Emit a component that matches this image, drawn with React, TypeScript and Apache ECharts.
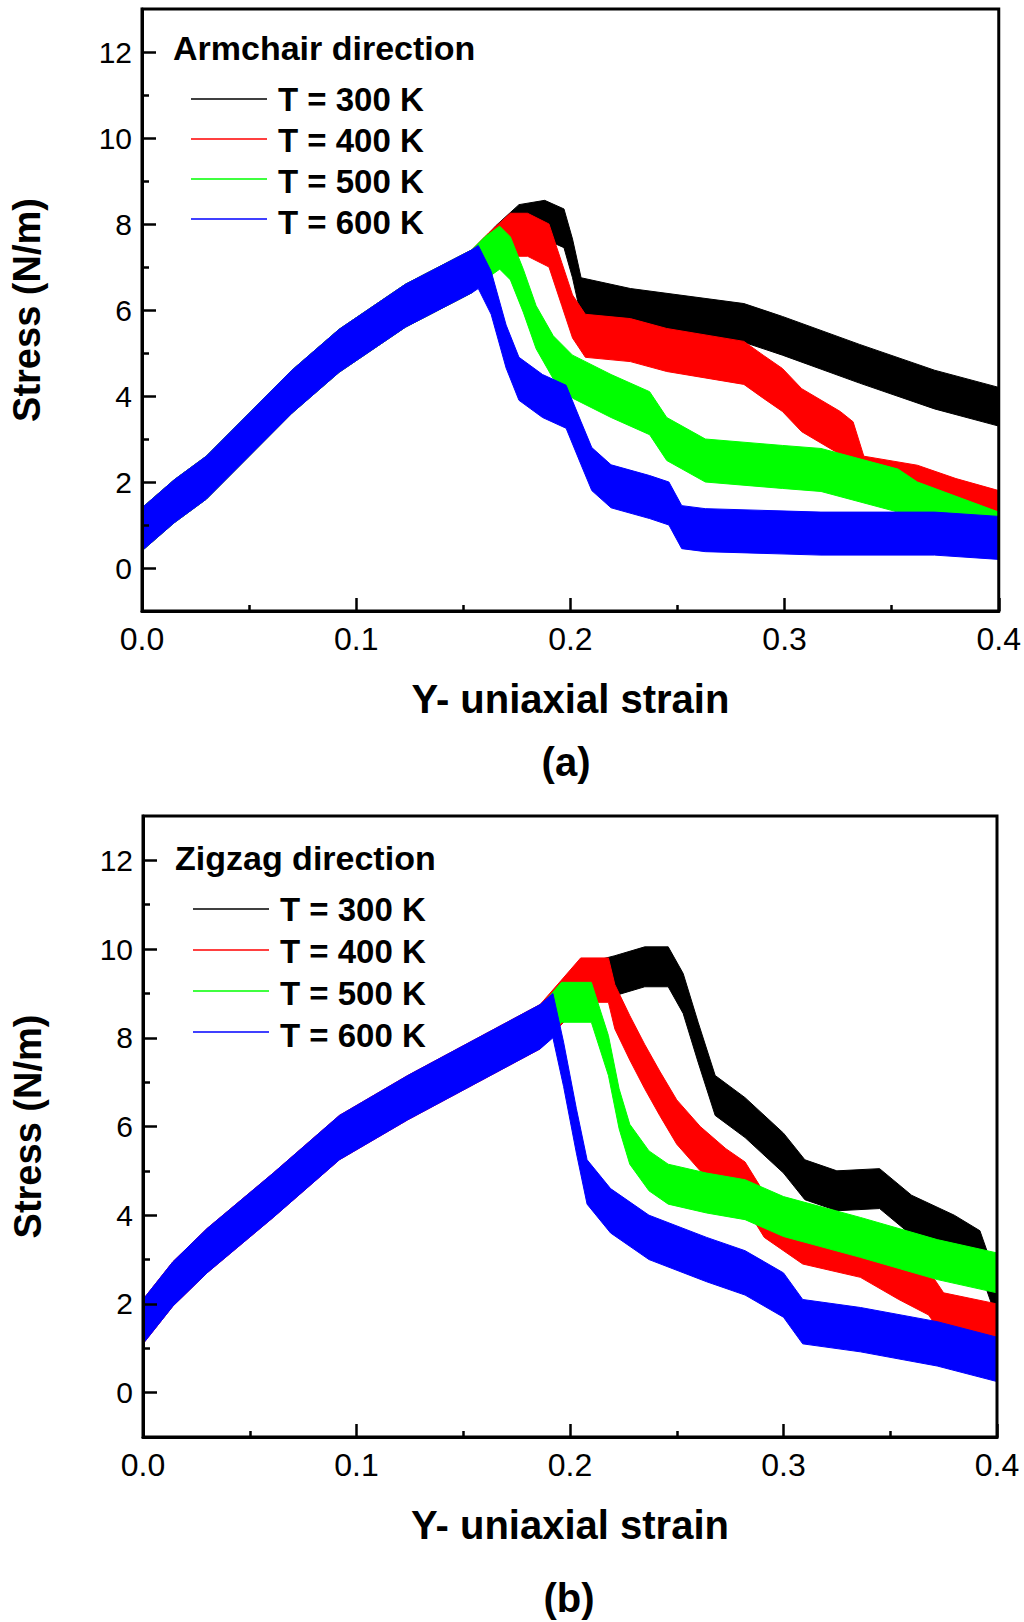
import React, { useEffect, useRef } from "react";
import * as echarts from "echarts";

const FONT = '"Liberation Sans", Arial, sans-serif';

// temperatures and their colours
const temps = ["T = 300 K", "T = 400 K", "T = 500 K", "T = 600 K"];
const colors = ["#000000", "#ff0000", "#00ff00", "#0000ff"];

// y tick values
const yMajorTicks = [0, 2, 4, 6, 8, 10, 12];
const yMinorTicks = [1, 3, 5, 7, 9, 11];

// (a) armchair direction: mean stress [strain, N/m]
const armchairLinear = [
  [0, 0.9], [0.015, 1.55], [0.03, 2.1], [0.05, 3.1], [0.07, 4.1],
  [0.092, 5.05], [0.123, 6.1], [0.154, 6.9],
];
const armchair300 = [
  [0.165, 7.5], [0.176, 8.0], [0.188, 8.1], [0.197, 7.9], [0.201, 7.2],
  [0.205, 6.3], [0.228, 6.05], [0.281, 5.7], [0.299, 5.4], [0.335, 4.75],
  [0.37, 4.15], [0.4, 3.75],
];
const armchair400 = [
  [0.162, 7.3], [0.172, 7.75], [0.18, 7.75], [0.19, 7.5], [0.196, 6.6],
  [0.201, 5.85], [0.207, 5.4], [0.228, 5.3], [0.245, 5.07], [0.281, 4.77],
  [0.29, 4.45], [0.299, 4.14], [0.308, 3.67], [0.326, 3.14], [0.332, 2.9],
  [0.337, 2.1], [0.362, 1.89], [0.38, 1.58], [0.4, 1.3],
];
const armchair500 = [
  [0.16, 7.2], [0.167, 7.45], [0.172, 7.2], [0.178, 6.45], [0.184, 5.6],
  [0.192, 4.9], [0.201, 4.45], [0.219, 4.0], [0.237, 3.6], [0.245, 3.0],
  [0.263, 2.5], [0.299, 2.35], [0.317, 2.28], [0.353, 1.8], [0.362, 1.5],
  [0.4, 0.8],
];
const armchair600 = [
  [0.157, 7.0], [0.163, 6.4], [0.17, 5.15], [0.176, 4.4], [0.187, 4.0],
  [0.198, 3.75], [0.205, 2.9], [0.21, 2.3], [0.219, 1.9], [0.237, 1.65],
  [0.246, 1.5], [0.252, 0.95], [0.263, 0.88], [0.317, 0.8], [0.37, 0.8],
  [0.4, 0.7],
];
const armchairNoise = [0.45, 0.5, 0.5, 0.5];

// (b) zigzag direction
const zigzagLinear = [
  [0, 1.6], [0.014, 2.45], [0.03, 3.2], [0.061, 4.45], [0.092, 5.75],
  [0.124, 6.65], [0.155, 7.45], [0.186, 8.25],
];
const zigzag300 = [
  [0.205, 9.2], [0.221, 9.4], [0.235, 9.6], [0.246, 9.6], [0.253, 9.0],
  [0.26, 7.9], [0.268, 6.7], [0.282, 6.2], [0.3, 5.4], [0.31, 4.8],
  [0.325, 4.55], [0.345, 4.6], [0.36, 4.0], [0.38, 3.55], [0.392, 3.2],
  [0.4, 2.1],
];
const zigzag400 = [
  [0.196, 8.8], [0.205, 9.3], [0.218, 9.3], [0.221, 8.7], [0.228, 8.0],
  [0.235, 7.35], [0.242, 6.75], [0.25, 6.1], [0.261, 5.5], [0.273, 5.0],
  [0.282, 4.7], [0.291, 4.0], [0.309, 3.4], [0.336, 3.1], [0.354, 2.6],
  [0.368, 2.25], [0.375, 1.75], [0.4, 1.5],
];
const zigzag500 = [
  [0.196, 8.8], [0.21, 8.8], [0.218, 7.6], [0.223, 6.4], [0.228, 5.6],
  [0.237, 5.0], [0.246, 4.7], [0.264, 4.5], [0.282, 4.35], [0.3, 3.97],
  [0.336, 3.5], [0.372, 3.0], [0.4, 2.7],
];
const zigzag600 = [
  [0.192, 8.5], [0.197, 7.4], [0.203, 5.9], [0.208, 4.75], [0.219, 4.1],
  [0.237, 3.5], [0.264, 3.0], [0.282, 2.7], [0.3, 2.2], [0.309, 1.6],
  [0.336, 1.42], [0.372, 1.1], [0.4, 0.75],
];
const zigzagNoise = [0.45, 0.5, 0.45, 0.5];

// a noisy MD curve is drawn as a filled band: mean +/- noise amplitude
const bandSeries = (chart: number, idx: number, pts: number[][], noise: number) => {
  const rows = pts.map(([x, y]) => [x, +(y - noise).toFixed(3), +(y + noise).toFixed(3)]);
  const color = colors[idx];
  return {
    type: "custom",
    name: temps[idx],
    coordinateSystem: "cartesian2d",
    xAxisIndex: chart,
    yAxisIndex: chart * 2,
    data: rows,
    encode: { x: 0, y: [1, 2] },
    itemStyle: { color },
    clip: true,
    silent: true,
    renderItem: (params: any, api: any) => {
      if (params.dataIndex !== 0) return null;
      const upper = rows.map((r) => api.coord([r[0], r[2]]));
      const lower = rows.map((r) => api.coord([r[0], r[1]])).reverse();
      return {
        type: "polygon",
        shape: { points: [...upper, ...lower] },
        style: { fill: color, stroke: color, lineWidth: 1 },
      };
    },
  };
};

const axisLine = { show: true, onZero: false, lineStyle: { color: "#000", width: 3 } };
const tickLine = { color: "#000", width: 2.5 };

const makeX = (i: number) => ({
  gridIndex: i,
  type: "value",
  min: 0,
  max: 0.4,
  interval: 0.1,
  name: "Y- uniaxial strain",
  nameLocation: "middle",
  nameGap: 68,
  nameTextStyle: { fontFamily: FONT, fontSize: 40, fontWeight: "bold", color: "#000" },
  axisLine,
  axisTick: { show: true, inside: true, length: 13, lineStyle: tickLine },
  minorTick: { show: true, splitNumber: 2, length: 6, lineStyle: tickLine },
  axisLabel: {
    fontFamily: FONT,
    fontSize: 32,
    color: "#000",
    margin: 12,
    formatter: (v: number) => v.toFixed(1),
  },
  splitLine: { show: false },
  z: 5,
});

const makeY = (i: number) => [
  {
    gridIndex: i,
    type: "value",
    position: "left",
    min: -1,
    max: 13,
    interval: 1,
    name: "Stress (N/m)",
    nameLocation: "middle",
    nameGap: 96,
    nameRotate: 90,
    nameTextStyle: { fontFamily: FONT, fontSize: 38, fontWeight: "bold", color: "#000" },
    axisLine,
    axisTick: { show: true, inside: true, length: 14, customValues: yMajorTicks, lineStyle: tickLine },
    axisLabel: {
      fontFamily: FONT,
      fontSize: 30,
      color: "#000",
      margin: 10,
      customValues: yMajorTicks,
    },
    splitLine: { show: false },
    z: 5,
  },
  {
    gridIndex: i,
    type: "value",
    position: "left",
    min: -1,
    max: 13,
    interval: 1,
    axisLine: { show: false },
    axisTick: { show: true, inside: true, length: 7, customValues: yMinorTicks, lineStyle: tickLine },
    axisLabel: { show: false },
    splitLine: { show: false },
    z: 5,
  },
];

// legend text comes from the legend; its thin sample lines are drawn as graphics
const makeLegend = (left: number, top: number, gap: number) => ({
  data: temps,
  orient: "vertical",
  left,
  top,
  padding: 0,
  icon: "rect",
  itemWidth: 76,
  itemHeight: 2,
  itemGap: gap,
  selectedMode: false,
  itemStyle: { opacity: 0 },
  textStyle: {
    fontFamily: FONT,
    fontSize: 33,
    fontWeight: "bold",
    color: "#000",
    lineHeight: 32,
    padding: [0, 0, 0, 6],
  },
});

const legendLines = (left: number, firstY: number, step: number) =>
  colors.map((c, k) => ({
    type: "line",
    shape: { x1: left, y1: firstY + k * step, x2: left + 76, y2: firstY + k * step },
    style: { stroke: c, lineWidth: 1.5 },
    silent: true,
  }));

const label = (text: string, x: number, y: number, size: number, align = "left") => ({
  type: "text",
  x,
  y,
  style: {
    text,
    fill: "#000",
    font: `bold ${size}px ${FONT}`,
    textAlign: align,
    textVerticalAlign: "middle",
  },
});

const App = () => {
  const chartRef = useRef<HTMLDivElement>(null);

  useEffect(() => {
    const chart = echarts.init(chartRef.current as HTMLDivElement, null, { renderer: "svg" });

    const armchair = [armchair300, armchair400, armchair500, armchair600];
    const zigzag = [zigzag300, zigzag400, zigzag500, zigzag600];
    const series: any[] = [];
    armchair.forEach((tail, k) => {
      series.push(bandSeries(0, k, [...armchairLinear, ...tail], armchairNoise[k]));
    });
    zigzag.forEach((tail, k) => {
      series.push(bandSeries(1, k, [...zigzagLinear, ...tail], zigzagNoise[k]));
    });

    const option = {
      animation: false,
      backgroundColor: "#fff",
      grid: [
        { left: 140, top: 9, width: 859, height: 602, show: true, borderColor: "#000", borderWidth: 3, z: 6 },
        { left: 143, top: 816, width: 854, height: 621, show: true, borderColor: "#000", borderWidth: 3, z: 6 },
      ],
      xAxis: [makeX(0), makeX(1)],
      yAxis: [...makeY(0), ...makeY(1)],
      legend: [makeLegend(191, 83, 8), makeLegend(193, 893, 9)],
      graphic: [
        label("Armchair direction", 173, 48, 34),
        label("Zigzag direction", 175, 858, 34),
        label("(a)", 566, 762, 40, "center"),
        label("(b)", 569, 1598, 40, "center"),
        ...legendLines(191, 99, 40),
        ...legendLines(193, 909, 41),
      ],
      series,
    };
    chart.setOption(option);

    return () => {
      chart.dispose();
    };
  }, []);

  return (
    <div
      ref={chartRef}
      style={{ position: "absolute", left: 0, top: 0, width: "1024px", height: "1622px" }}
    />
  );
};

export default App;
